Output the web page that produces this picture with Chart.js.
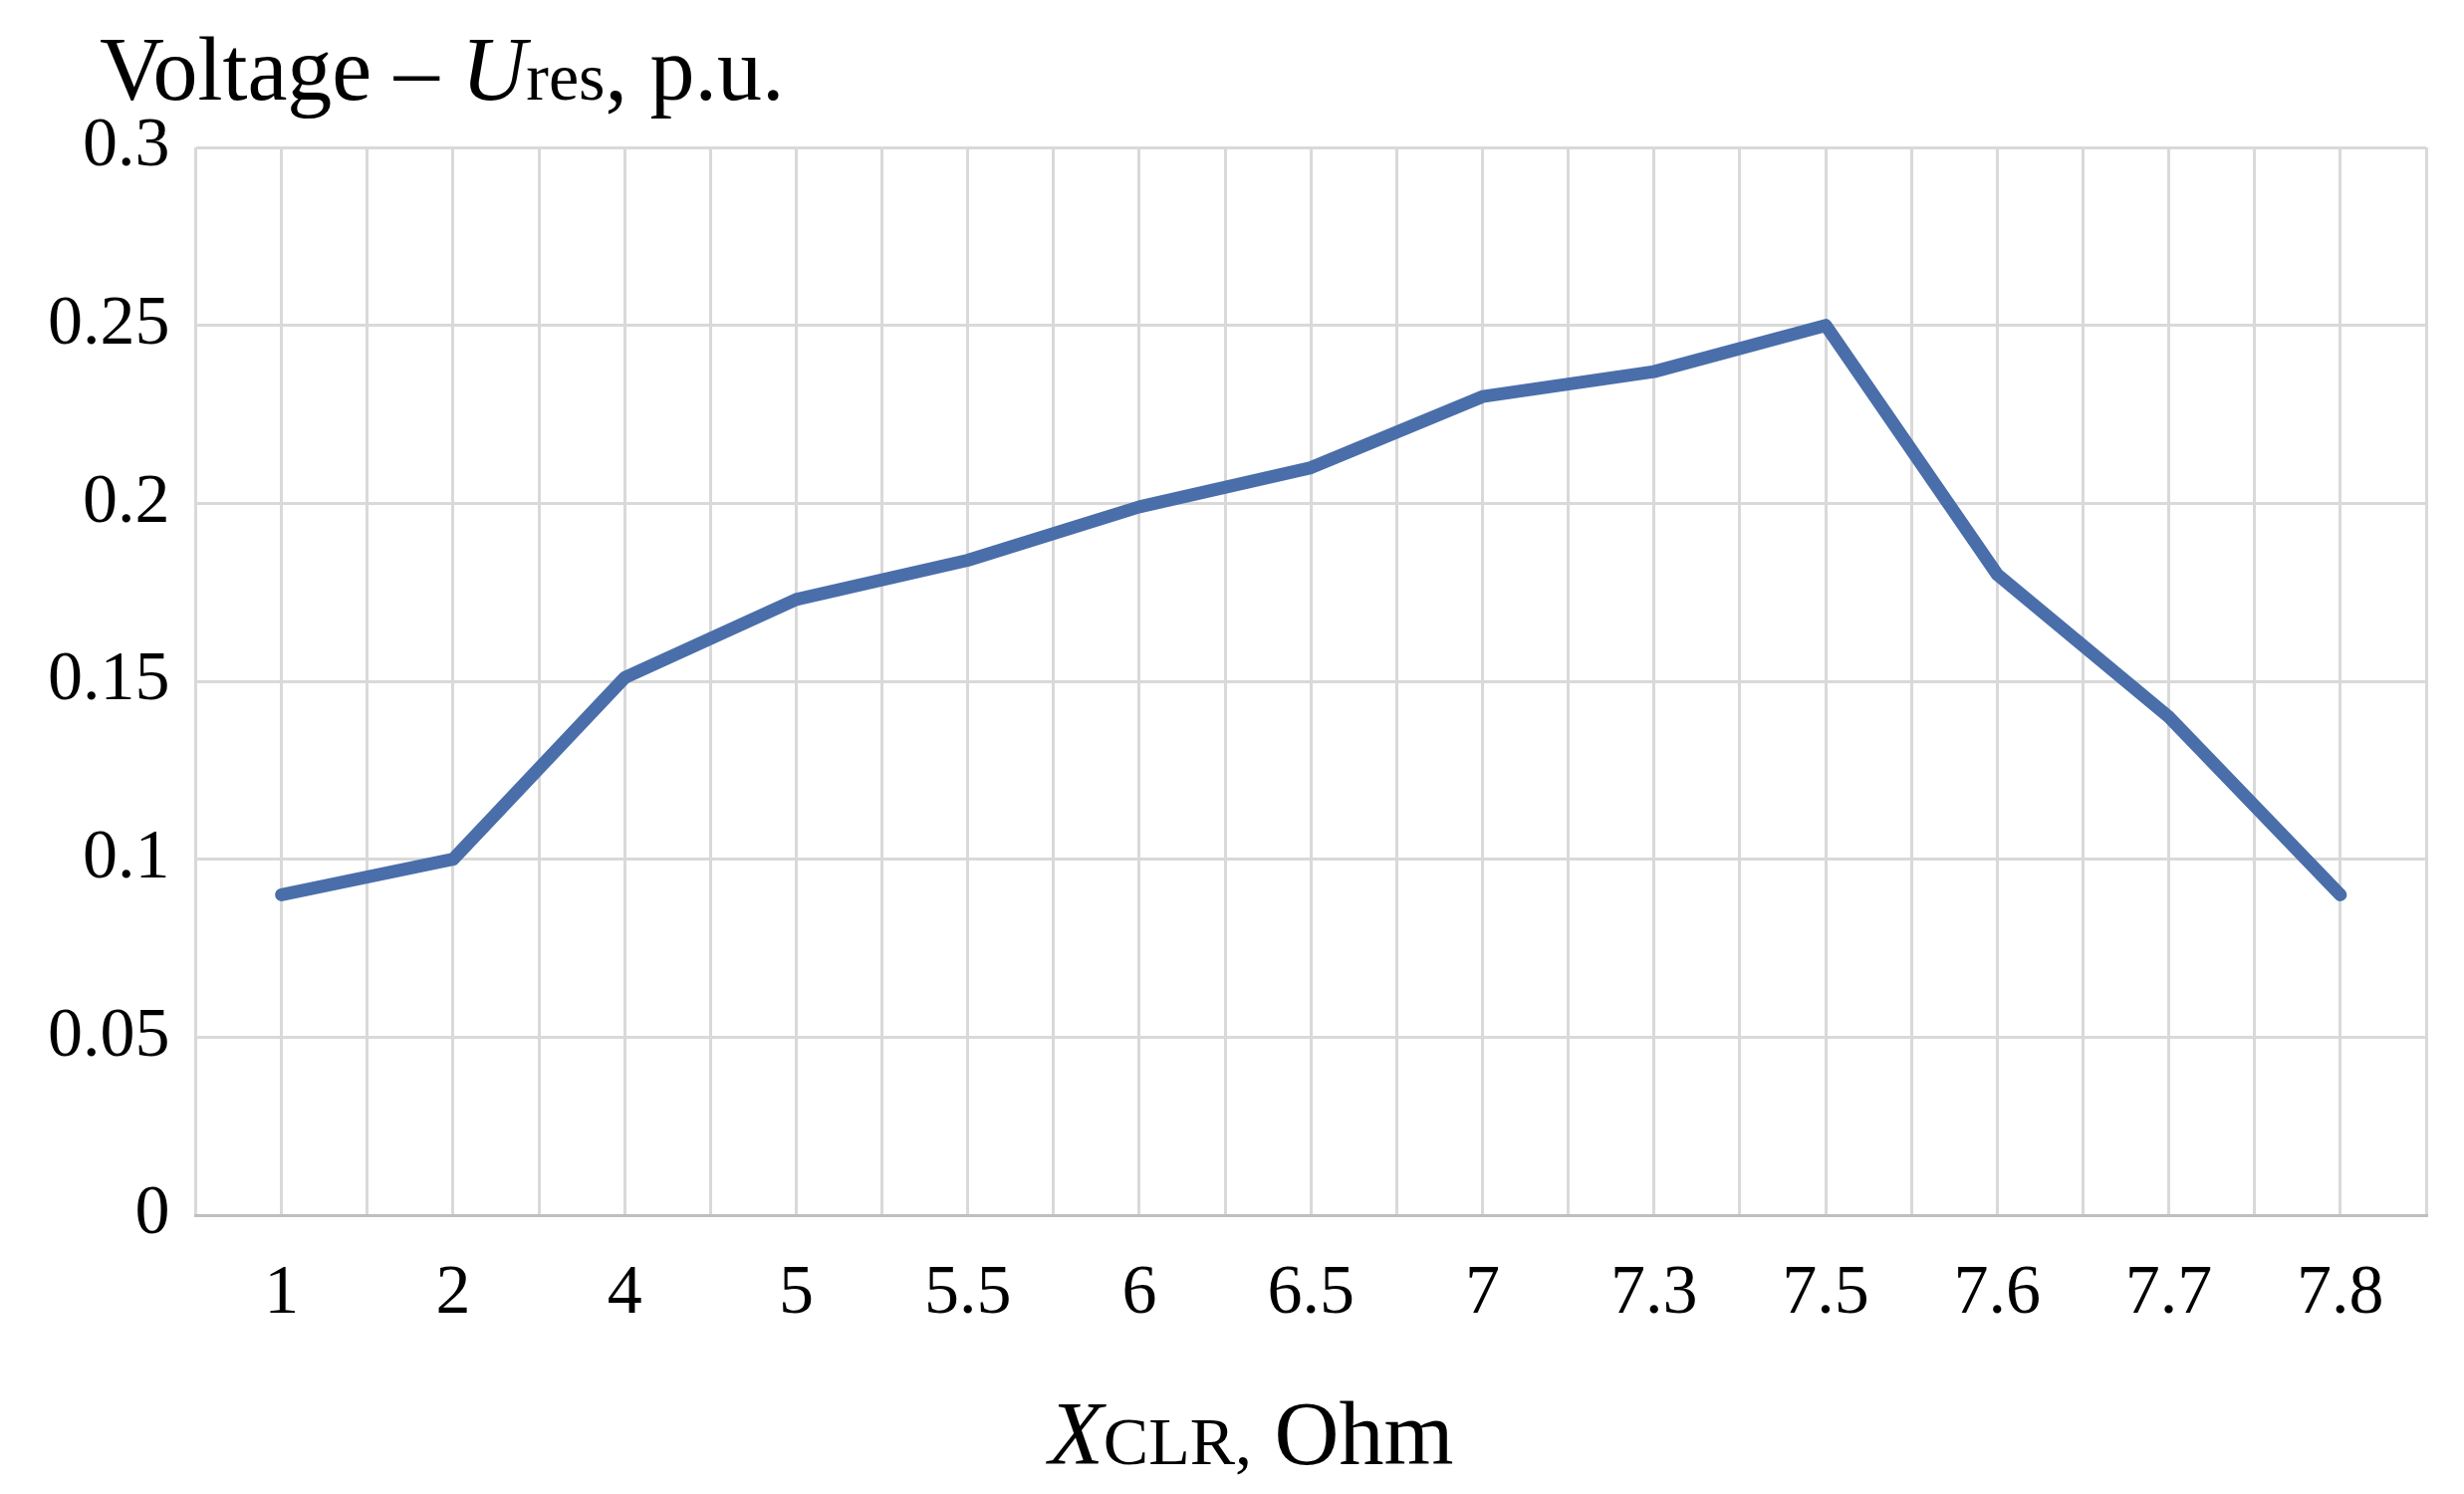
<!DOCTYPE html>
<html><head><meta charset="utf-8">
<script src="https://cdn.jsdelivr.net/npm/chart.js@4"></script>
<style>html,body{margin:0;padding:0;background:#fff}#wrap{width:2474px;height:1500px}</style>
</head><body><div id="wrap"><canvas id="c"></canvas></div>
<script>
const categories = ["1","2","4","5","5.5","6","6.5","7","7.3","7.5","7.6","7.7","7.8"];
const voltage = [0.09,0.1,0.151,0.173,0.184,0.199,0.21,0.23,0.237,0.25,0.18,0.14,0.09];
const yTicks = [0,0.05,0.1,0.15,0.2,0.25,0.3];

const FONT = "'Liberation Serif','DejaVu Serif',serif";
const titles = {
  id:'titles',
  afterDraw(ch){
    const c=ch.ctx, a=ch.chartArea;
    c.save(); c.fillStyle='#000'; c.textBaseline='alphabetic';
    let x=100, y=100;
    const parts=[["Voltage – ","normal 90px"],["U","italic 90px"],["res","normal 68px"],[", p.u.","normal 90px"]];
    for(const [t,f] of parts){c.font=f+' '+FONT; c.fillText(t,x,y); x+=c.measureText(t).width;}
    const xp=[["X","italic 90px"],["CLR,","normal 68px"],[" Ohm","normal 90px"]];
    let w=0; for(const [t,f] of xp){c.font=f+' '+FONT; w+=c.measureText(t).width;}
    x=(a.left+a.right)/2-w/2-60; y=1470;
    for(const [t,f] of xp){c.font=f+' '+FONT; c.fillText(t,x,y); x+=c.measureText(t).width;}
    c.restore();
  }
};
new Chart(document.getElementById('c'),{
  type:'line',
  data:{datasets:[{data:voltage.map((v,i)=>({x:i,y:v})),borderColor:'#4a6eaa',borderWidth:13,pointRadius:0,tension:0,fill:false,borderCapStyle:'round',borderJoinStyle:'round'}]},
  options:{
    responsive:true,maintainAspectRatio:false,animation:false,
    layout:{padding:{left:22,right:20,top:148,bottom:120}},
    plugins:{legend:{display:false},tooltip:{enabled:false}},
    scales:{
      x:{type:'linear',min:-0.5,max:12.5,
        afterBuildTicks(ax){const t=[];for(let v=-0.5;v<=12.5;v+=0.5)t.push({value:v});ax.ticks=t;},
        ticks:{autoSkip:false,maxRotation:0,padding:38,color:'#000',font:{family:FONT,size:70},
          callback:v=>Number.isInteger(v)?categories[v]:''},
        grid:{color:'#d9d9d9',lineWidth:3,drawTicks:false},border:{color:'#bfbfbf',width:3}},
      y:{min:0,max:0.3,
        afterBuildTicks(ax){ax.ticks=yTicks.map(v=>({value:v}));},
        ticks:{padding:26,color:'#000',font:{family:FONT,size:70},callback:v=>String(+v.toFixed(2))},
        grid:{color:'#d9d9d9',lineWidth:3,drawTicks:false},border:{display:false}}
    }
  },
  plugins:[titles]
});
</script></body></html>
